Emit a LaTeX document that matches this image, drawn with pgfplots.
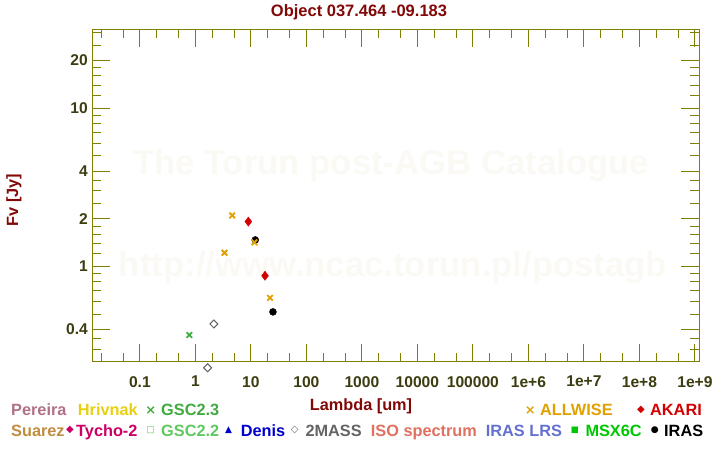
\documentclass[border=0pt]{standalone}
\usepackage{pgfplots}
\pgfplotsset{compat=1.18}
\usepackage{fontspec}
\setmainfont{Liberation Sans}
\newfontfamily\symfont{DejaVu Sans}

\definecolor{axcol}{RGB}{128,128,0}
\definecolor{ticklab}{RGB}{60,60,16}
\definecolor{darkred}{RGB}{130,8,8}
\definecolor{wm}{RGB}{251,249,244}
\definecolor{allwise}{RGB}{224,160,0}
\definecolor{akari}{RGB}{210,0,0}
\definecolor{tmass}{RGB}{100,100,100}
\definecolor{gsctwothree}{RGB}{64,170,64}
\definecolor{pereira}{RGB}{176,112,136}
\definecolor{hrivnak}{RGB}{232,208,16}
\definecolor{suarez}{RGB}{192,140,64}
\definecolor{tycho}{RGB}{204,0,102}
\definecolor{gsctwotwo}{RGB}{96,200,96}
\definecolor{denis}{RGB}{0,0,204}
\definecolor{isospec}{RGB}{224,112,96}
\definecolor{iraslrs}{RGB}{100,112,208}
\definecolor{msx}{RGB}{0,200,0}

\newcommand{\lfont}{\fontsize{16.3}{17}\selectfont\bfseries}

\begin{document}
\begin{tikzpicture}[x=1pt,y=1pt]
\useasboundingbox (0,0) rectangle (720,450);

% faint watermark behind the plot
\node[text=wm, font=\fontsize{34.7}{36}\selectfont\bfseries, anchor=base] at (391,275) {The Torun post-AGB Catalogue};
\node[text=wm, font=\fontsize{34.7}{36}\selectfont\bfseries, anchor=base] at (393,173.3) {http://www.ncac.torun.pl/postagb};

\begin{axis}[
  at={(92.3pt,88.3pt)}, anchor=south west,
  width=607pt, height=332.4pt, scale only axis,
  xmode=log, ymode=log,
  xmin=0.0139, xmax=1.2e9,
  ymin=0.25, ymax=31.5,
  axis line style={axcol, line width=1pt},
  every tick/.style={axcol, line width=1pt},
  major tick length=18pt, minor tick length=9pt,
  tick align=inside,
  xtick={0.1,1,10,100,1000,1e4,1e5,1e6,1e7,1e8,1e9},
  xticklabels={0.1,1,10,100,1000,10000,100000,1e+6,1e+7,1e+8,1e+9},
  minor xtick={0.02,0.05,0.2,0.5,2,5,20,50,200,500,2000,5000,2e4,5e4,2e5,5e5,2e6,5e6,2e7,5e7,2e8,5e8},
  ytick={0.4,1,2,4,10,20},
  yticklabels={0.4,1,2,4,10,20},
  minor ytick={0.3,0.35,0.5,0.6,0.7,0.8,0.9,1.2,1.4,1.6,1.8,2.5,3,3.5,5,6,7,8,9,12,14,16,18,25,30},
  tick label style={font=\fontsize{15.6}{16}\selectfont\bfseries, text=ticklab, inner sep=0pt},
  xticklabel style={yshift=-14.3pt},
  yticklabel style={xshift=-4.3pt},
  clip=false,
]
% IRAS
\addplot[only marks, mark=*, mark size=3.5pt, black] coordinates {(12,1.47) (25,0.516)};
% ALLWISE
\addplot[only marks, mark=x, mark size=3.9pt, allwise, line width=1.8pt]
  coordinates {(3.35,1.22) (4.6,2.10) (11.6,1.42) (22.1,0.633)};
% AKARI
\addplot[only marks, mark=diamond*, mark size=4.6pt, akari] coordinates {(9,1.92) (18,0.873)};
% 2MASS
\addplot[only marks, mark=square, mark size=2.8pt, tmass, line width=1pt, mark options={rotate=45}]
  coordinates {(1.662,0.229) (2.159,0.433)};
% GSC2.3
\addplot[only marks, mark=x, mark size=3.9pt, gsctwothree, line width=1.8pt] coordinates {(0.78,0.369)};
\end{axis}

% title and axis labels
\node[text=darkred, font=\fontsize{16.5}{17}\selectfont\bfseries, anchor=base] at (359,433.5) {Object 037.464 -09.183};
\node[text=darkred, font=\lfont, anchor=base] at (361,40) {Lambda [um]};
\node[text=darkred, font=\lfont, rotate=90] at (14,250) {Fv [Jy]};

% legend, row 1
\node[text=pereira, font=\lfont, anchor=base west, inner sep=0pt] at (11,34.3) {Pereira};
\node[text=hrivnak, font=\lfont, anchor=base west, inner sep=0pt] at (77.7,34.3) {Hrivnak};
\node[text=gsctwothree, font=\fontsize{13}{13}\selectfont\symfont\bfseries, inner sep=0pt] at (150.7,39.7) {×};
\node[text=gsctwothree, font=\lfont, anchor=base west, inner sep=0pt] at (161,34.3) {GSC2.3};
\node[text=allwise, font=\fontsize{13}{13}\selectfont\symfont\bfseries, inner sep=0pt] at (530.3,39.7) {×};
\node[text=allwise, font=\lfont, anchor=base west, inner sep=0pt] at (540,34.3) {ALLWISE};
\node[text=akari, font=\fontsize{10}{10}\selectfont\symfont, inner sep=0pt] at (641,39.7) {◆};
\node[text=akari, font=\lfont, anchor=base west, inner sep=0pt] at (650,34.3) {AKARI};

% legend, row 2
\node[text=suarez, font=\lfont, anchor=base west, inner sep=0pt] at (11,13.7) {Suarez};
\node[text=tycho, font=\fontsize{10}{10}\selectfont\symfont, inner sep=0pt] at (70,19.7) {◆};
\node[text=tycho, font=\lfont, anchor=base west, inner sep=0pt] at (76,13.7) {Tycho-2};
\node[text=gsctwotwo, font=\fontsize{9}{9}\selectfont\symfont\bfseries, inner sep=0pt] at (150.7,19.7) {□};
\node[text=gsctwotwo, font=\lfont, anchor=base west, inner sep=0pt] at (161,13.7) {GSC2.2};
\node[text=denis, font=\fontsize{9}{9}\selectfont\symfont, inner sep=0pt] at (228.7,19.7) {▲};
\node[text=denis, font=\lfont, anchor=base west, inner sep=0pt] at (240.7,13.7) {Denis};
\node[text=tmass, font=\fontsize{10}{10}\selectfont\symfont\bfseries, inner sep=0pt] at (294.7,19.7) {◇};
\node[text=tmass, font=\lfont, anchor=base west, inner sep=0pt] at (305.3,13.7) {2MASS};
\node[text=isospec, font=\lfont, anchor=base west, inner sep=0pt] at (370.7,13.7) {ISO spectrum};
\node[text=iraslrs, font=\lfont, anchor=base west, inner sep=0pt] at (485.7,13.7) {IRAS LRS};
\node[text=msx, font=\fontsize{8.5}{8.5}\selectfont\symfont, inner sep=0pt] at (575,19.7) {■};
\node[text=msx, font=\lfont, anchor=base west, inner sep=0pt] at (585.3,13.7) {MSX6C};
\node[text=black, font=\fontsize{9}{9}\selectfont\symfont, inner sep=0pt] at (654.7,19.7) {●};
\node[text=black, font=\lfont, anchor=base west, inner sep=0pt] at (664,13.7) {IRAS};
\end{tikzpicture}
\end{document}
